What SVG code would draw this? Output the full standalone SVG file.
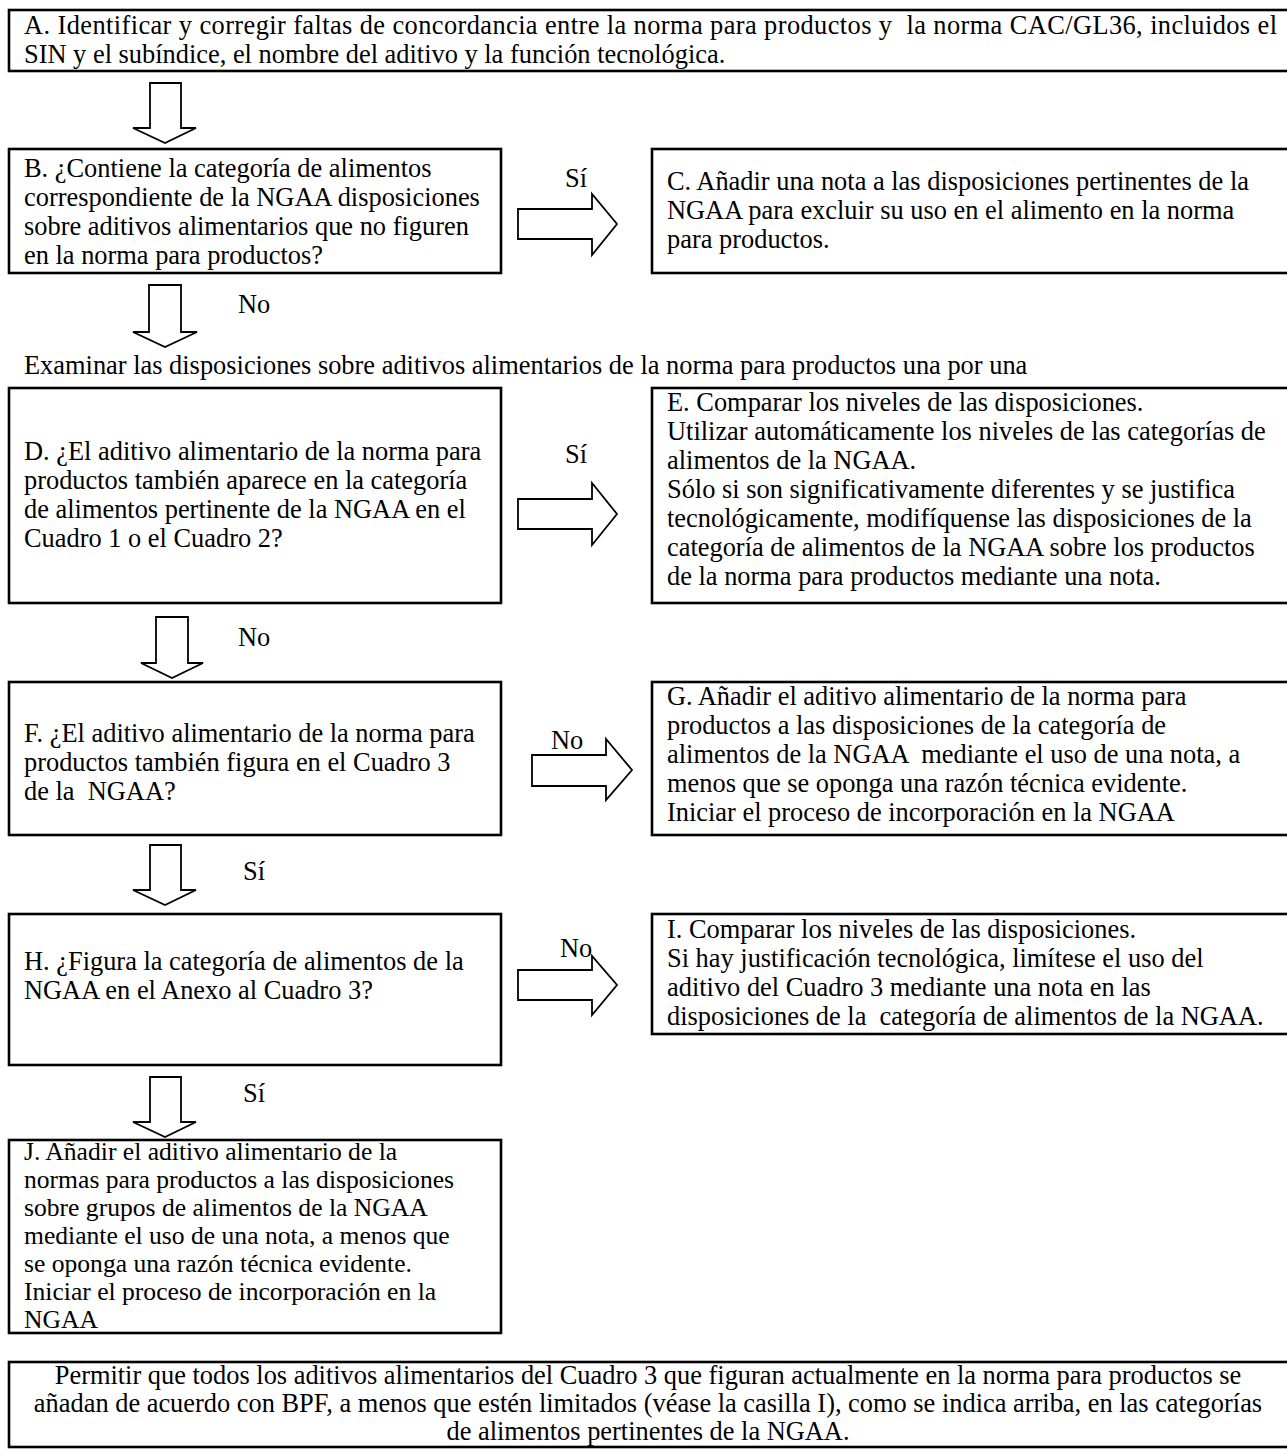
<svg xmlns="http://www.w3.org/2000/svg" width="1287" height="1449" viewBox="0 0 1287 1449">
<style>
.box{fill:#fff;stroke:#000;stroke-width:2.6}
.arr{fill:#fff;stroke:#000;stroke-width:1.8;stroke-linejoin:miter}
text{font-family:"Liberation Serif","Times New Roman",serif;font-size:26.4px;fill:#000;white-space:pre}
.c{text-anchor:middle}
.s{font-size:25.6px}
</style>
<rect width="1287" height="1449" fill="#fff"/>
<g id="connectors">
<polygon class="arr" points="150,83 181,83 181,128 196,128 165,143 133,128 150,128"/>
<polygon class="arr" points="518,209 592,209 592,194 617,224 592,255 592,239 518,239"/>
<text x="565" y="187">Sí</text>
<polygon class="arr" points="149,285 181,285 181,332 197,332 165,347 133,332 149,332"/>
<text x="238" y="313">No</text>
<polygon class="arr" points="518,499 592,499 592,483 617,514 592,545 592,529 518,529"/>
<text x="565" y="463">Sí</text>
<polygon class="arr" points="156,617 188,617 188,663 203,663 172,678 141,663 156,663"/>
<text x="238" y="646">No</text>
<polygon class="arr" points="532,755 606,755 606,739 632,770 606,800 606,786 532,786"/>
<text x="551" y="749">No</text>
<polygon class="arr" points="150,845 181,845 181,890 196,890 165,905 133,890 150,890"/>
<text x="243" y="880">Sí</text>
<polygon class="arr" points="518,970 592,970 592,956 617,985 592,1015 592,1000 518,1000"/>
<text x="560" y="957">No</text>
<polygon class="arr" points="150,1077 181,1077 181,1122 196,1122 165,1137 133,1122 150,1122"/>
<text x="243" y="1102">Sí</text>
</g>
<g id="nodeA">
<rect class="box" x="9" y="10" width="1290" height="61"/>
<text x="24" y="34" textLength="1253" lengthAdjust="spacing">A. Identificar y corregir faltas de concordancia entre la norma para productos y  la norma CAC/GL36, incluidos el</text>
<text x="24" y="63">SIN y el subíndice, el nombre del aditivo y la función tecnológica.</text>
</g>
<g id="nodeB">
<rect class="box" x="9" y="149" width="492" height="124"/>
<text x="24" y="177">B. ¿Contiene la categoría de alimentos</text>
<text x="24" y="206">correspondiente de la NGAA disposiciones</text>
<text x="24" y="235">sobre aditivos alimentarios que no figuren</text>
<text x="24" y="264">en la norma para productos?</text>
</g>
<g id="nodeC">
<rect class="box" x="652" y="149" width="650" height="124"/>
<text x="667" y="190">C. Añadir una nota a las disposiciones pertinentes de la</text>
<text x="667" y="219">NGAA para excluir su uso en el alimento en la norma</text>
<text x="667" y="248">para productos.</text>
</g>
<g id="examinar">
<text x="24" y="374">Examinar las disposiciones sobre aditivos alimentarios de la norma para productos una por una</text>
</g>
<g id="nodeD">
<rect class="box" x="9" y="388" width="492" height="215"/>
<text x="24" y="460">D. ¿El aditivo alimentario de la norma para</text>
<text x="24" y="489">productos también aparece en la categoría</text>
<text x="24" y="518">de alimentos pertinente de la NGAA en el</text>
<text x="24" y="547">Cuadro 1 o el Cuadro 2?</text>
</g>
<g id="nodeE">
<rect class="box" x="652" y="388" width="650" height="215"/>
<text x="667" y="411">E. Comparar los niveles de las disposiciones.</text>
<text x="667" y="440">Utilizar automáticamente los niveles de las categorías de</text>
<text x="667" y="469">alimentos de la NGAA.</text>
<text x="667" y="498">Sólo si son significativamente diferentes y se justifica</text>
<text x="667" y="527">tecnológicamente, modifíquense las disposiciones de la</text>
<text x="667" y="556">categoría de alimentos de la NGAA sobre los productos</text>
<text x="667" y="585">de la norma para productos mediante una nota.</text>
</g>
<g id="nodeF">
<rect class="box" x="9" y="682" width="492" height="153"/>
<text x="24" y="742">F. ¿El aditivo alimentario de la norma para</text>
<text x="24" y="771">productos también figura en el Cuadro 3</text>
<text x="24" y="800">de la  NGAA?</text>
</g>
<g id="nodeG">
<rect class="box" x="652" y="682" width="650" height="153"/>
<text x="667" y="705">G. Añadir el aditivo alimentario de la norma para</text>
<text x="667" y="734">productos a las disposiciones de la categoría de</text>
<text x="667" y="763">alimentos de la NGAA  mediante el uso de una nota, a</text>
<text x="667" y="792">menos que se oponga una razón técnica evidente.</text>
<text x="667" y="821">Iniciar el proceso de incorporación en la NGAA</text>
</g>
<g id="nodeH">
<rect class="box" x="9" y="914" width="492" height="151"/>
<text x="24" y="970">H. ¿Figura la categoría de alimentos de la</text>
<text x="24" y="999">NGAA en el Anexo al Cuadro 3?</text>
</g>
<g id="nodeI">
<rect class="box" x="652" y="914" width="650" height="120"/>
<text x="667" y="938">I. Comparar los niveles de las disposiciones.</text>
<text x="667" y="967">Si hay justificación tecnológica, limítese el uso del</text>
<text x="667" y="996">aditivo del Cuadro 3 mediante una nota en las</text>
<text x="667" y="1025">disposiciones de la  categoría de alimentos de la NGAA.</text>
</g>
<g id="nodeJ">
<rect class="box" x="9" y="1140" width="492" height="193"/>
<text class="s" x="24" y="1160">J. Añadir el aditivo alimentario de la</text>
<text class="s" x="24" y="1188">normas para productos a las disposiciones</text>
<text class="s" x="24" y="1216">sobre grupos de alimentos de la NGAA</text>
<text class="s" x="24" y="1244">mediante el uso de una nota, a menos que</text>
<text class="s" x="24" y="1272">se oponga una razón técnica evidente.</text>
<text class="s" x="24" y="1300">Iniciar el proceso de incorporación en la</text>
<text class="s" x="24" y="1328">NGAA</text>
</g>
<g id="nodeK">
<rect class="box" x="9" y="1362" width="1290" height="85"/>
<text class="c" x="648" y="1384">Permitir que todos los aditivos alimentarios del Cuadro 3 que figuran actualmente en la norma para productos se</text>
<text class="c" x="648" y="1412">añadan de acuerdo con BPF, a menos que estén limitados (véase la casilla I), como se indica arriba, en las categorías</text>
<text class="c" x="648" y="1440">de alimentos pertinentes de la NGAA.</text>
</g>
</svg>
